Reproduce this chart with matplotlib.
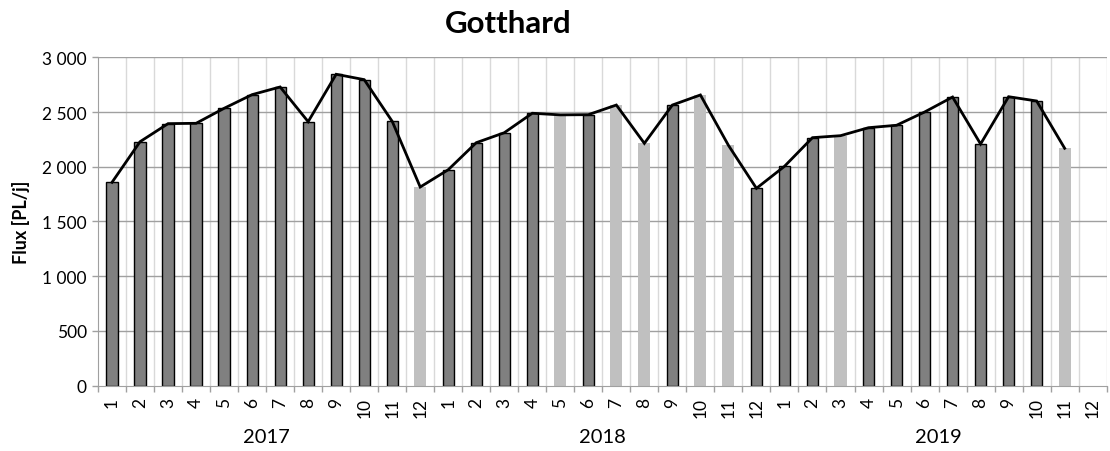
import matplotlib
matplotlib.use("Agg")
import matplotlib.pyplot as plt
import numpy as np

plt.rcParams['font.family'] = ['Lato', 'DejaVu Sans']

years = ["2017", "2018", "2019"]
months = [str(m) for m in range(1, 13)]

# Monthly truck flows (None = no data yet)
flux_2017 = [1858, 2229, 2394, 2397, 2534, 2659, 2729, 2412, 2845, 2796, 2415, 1815]
flux_2018 = [1973, 2220, 2311, 2489, 2474, 2476, 2564, 2214, 2564, 2656, 2196, 1803]
flux_2019 = [2004, 2266, 2284, 2357, 2379, 2500, 2637, 2208, 2640, 2601, 2169, None]

# Months shown as light bars (provisional / estimated)
light_2017 = [12]
light_2018 = [5, 7, 8, 10, 11]
light_2019 = [3, 11]

values = flux_2017 + flux_2018 + flux_2019
light = ([(0, m) for m in light_2017] + [(1, m) for m in light_2018]
         + [(2, m) for m in light_2019])
light_idx = {y * 12 + (m - 1) for y, m in light}

fig = plt.figure(figsize=(11.1, 4.52), dpi=100)
ax = fig.add_axes([0.0883, 0.1445, 0.9087, 0.7265])

n = len(values)
x = np.arange(n)
for i, v in enumerate(values):
    if v is None:
        continue
    if i in light_idx:
        ax.bar(i, v, width=0.43, color="#c0c0c0", edgecolor="none", zorder=2)
    else:
        ax.bar(i, v, width=0.40, color="#808080", edgecolor="black",
               linewidth=1.0, zorder=2)

lx = [i for i, v in enumerate(values) if v is not None]
ly = [v for v in values if v is not None]
ax.plot(lx, ly, color="black", linewidth=2.0, zorder=3, solid_joinstyle="miter")

ax.set_xlim(-0.5, n - 0.5)
ax.set_ylim(0, 3000)
yt = np.arange(0, 3001, 500)
ax.set_yticks(yt)
ax.set_yticklabels([f"{int(t):,}".replace(",", " ") for t in yt], fontsize=12.5)

# Category boundaries: ticks and vertical grid
bounds = np.arange(-0.5, n, 1.0)
for b in bounds[1:]:
    ax.axvline(b, color="#d9d9d9", linewidth=1.0, zorder=0)
for t in yt[1:]:
    ax.axhline(t, color="#a0a0a0", linewidth=1.0, zorder=1)

ax.set_xticks(bounds, minor=False)
ax.set_xticklabels([])
ax.tick_params(axis="x", which="major", length=4, color="#a0a0a0", width=1)
ax.set_xticks(x, minor=True)
ax.set_xticklabels(months * 3, minor=True, rotation=90, fontsize=12.5)
ax.tick_params(axis="x", which="minor", length=0, pad=8)
ax.tick_params(axis="y", length=4, color="#a0a0a0", width=1, pad=4)

for i, yr in enumerate(years):
    ax.text(i * 12 + 5.5, -0.155, yr, transform=ax.get_xaxis_transform(),
            ha="center", va="center", fontsize=14.5)

for side in ["top", "right"]:
    ax.spines[side].set_visible(False)
ax.spines["left"].set_color("#a0a0a0")
ax.spines["bottom"].set_color("#a0a0a0")

ax.set_ylabel("Flux [PL/j]", fontsize=13, fontweight="bold")
ax.yaxis.set_label_coords(0.019, 0.509, transform=fig.transFigure)
ax.yaxis.label.set_va("center")
fig.text(0.458, 0.948, "Gotthard", ha="center", va="center",
         fontsize=22.5, fontweight="bold")

fig.savefig("out.png", dpi=100)
